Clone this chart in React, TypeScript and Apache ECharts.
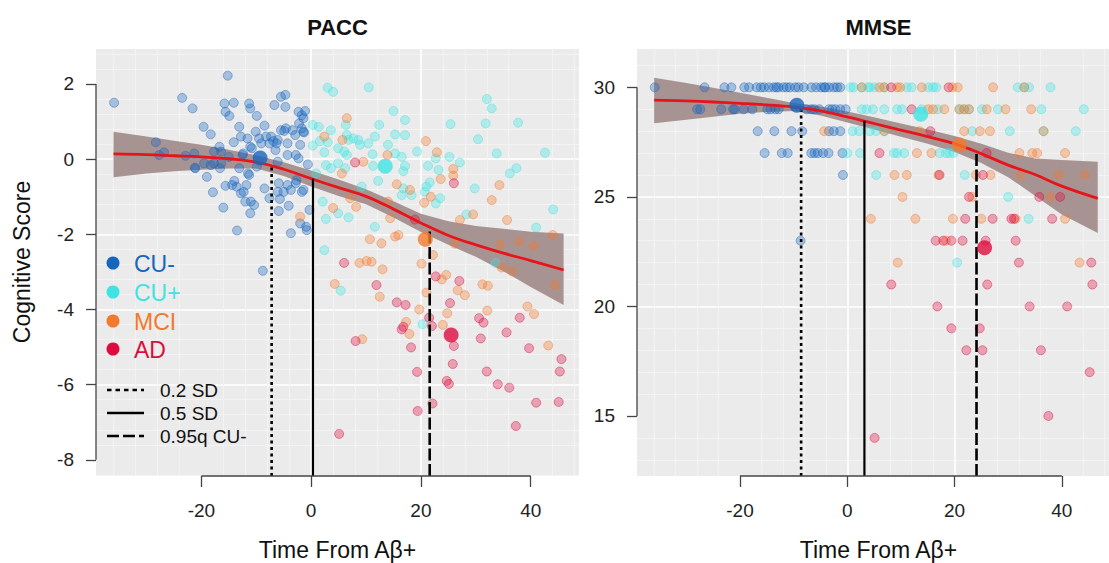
import React, { useEffect, useRef } from "react";
import * as echarts from "echarts";

// ---------- DATA ----------
const xTicks = [-20, 0, 20, 40];
const paccYTicks = [-8, -6, -4, -2, 0, 2];
const mmseYTicks = [15, 20, 25, 30];

const groupNames = ["CU-", "CU+", "MCI", "AD"];

// PACC scatter [time, score]
const paccCUneg = [
  [-35.9, 1.5], [-23.5, 1.63], [-21.6, 1.35], [-15.2, 2.22], [-28.3, 0.45], [-27.7, 0.11], [-26.8, 0.18], [-22.9, 0.09],
  [-21.3, 0.15], [-21.1, -0.24], [-19.6, 0.86], [-18.3, 0.66], [-19.5, -0.11], [-19.0, -0.47], [-17.9, -0.88], [-17.7, -0.11],
  [-16.7, 0.33], [-16.4, 0.2], [-16.6, -0.24], [-16.0, -1.29], [-15.6, -0.71], [-15.8, 1.48], [-15.6, 1.26], [-14.9, 1.15],
  [-14.1, 1.5], [-14.1, 0.45], [-14.0, -0.58], [-13.6, -0.73], [-13.5, -1.9], [-13.1, 0.86], [-12.8, 0.6], [-13.1, -0.24],
  [-12.8, -0.91], [-12.3, -0.87], [-12.5, 0.11], [-12.0, -1.13], [-11.6, 0.55], [-11.3, 1.48], [-11.1, 1.35], [-11.3, -0.42],
  [-11.1, -1.44], [-11.0, -1.13], [-10.4, -1.22], [-10.8, 0.29], [-10.1, 0.73], [-9.9, 1.15], [-9.5, 0.55], [-9.1, 0.42],
  [-8.5, 0.89], [-8.5, -0.78], [-8.2, 0.6], [-7.6, -1.04], [-7.6, 0.42], [-6.9, 0.48], [-6.7, 1.44], [-6.5, 0.24],
  [-6.1, 0.51], [-6.1, -0.07], [-6.1, -0.87], [-5.9, -1.38], [-5.7, -1.06], [-5.5, 1.66], [-4.7, 1.71], [-4.7, 1.39],
  [-4.9, 0.75], [-4.3, 0.42], [-4.3, 0.11], [-4.3, -0.69], [-4.1, -1.24], [-3.7, -1.97], [-3.4, 0.77], [-2.9, 0.64],
  [-2.8, 0.11], [-2.8, -0.64], [-2.3, 1.26], [-2.2, 0.95], [-2.0, 0.38], [-1.7, 0.82], [-1.4, 1.09], [-1.1, 1.28],
  [-1.3, 0.71], [-2.3, 0.02], [-1.4, -0.82], [-0.9, -1.8], [-0.6, -0.14], [-0.3, -1.35], [-2.0, -1.71], [-0.8, -1.89],
  [-5.5, 0.77], [-8.8, -2.97], [-1.7, 1.17], [-1.4, 0.73], [-4.6, 0.82], [-6.3, 0.42], [-7.3, 0.6], [-11.1, 0.33],
  [-12.4, 0.15], [-15.0, 0.06], [-16.4, -0.11], [-18.3, -0.16], [-21.2, -0.23], [-17.7, 0.2], [-11.5, -0.38], [-9.9, -0.2],
  [-5.9, -0.64], [-2.7, -0.56], [-1.7, -0.87], [-11.8, -0.69], [-14.4, -0.69], [-3.7, -0.82], [-5.0, -0.87],
];
const paccCUpos = [
  [3.0, 1.9], [4.0, 1.79], [0.3, 0.91], [1.4, 0.86], [3.6, 0.77], [0.3, 0.36], [1.6, 0.48], [3.0, 0.45], [2.4, 0.18],
  [2.7, -0.16], [3.6, -0.24], [0.9, -0.38], [2.1, -1.13], [2.7, -1.59], [10.5, 1.91], [15.0, 1.28], [17.1, 1.04],
  [12.4, 0.91], [6.3, 0.91], [11.6, 0.6], [15.3, 0.66], [17.1, 0.64], [6.5, 0.64], [7.7, 0.55], [8.6, 0.51], [6.8, 0.51],
  [8.9, 0.38], [10.4, 0.42], [4.9, 0.29], [6.0, 0.2], [14.0, 0.38], [19.3, 0.2], [15.3, 0.15], [16.5, 0.06], [11.2, 0.13],
  [6.5, 0.11], [22.7, 0.02], [25.2, 0.06], [27.1, -0.09], [4.9, -0.11], [6.2, -0.24], [11.3, -0.18], [17.1, -0.18],
  [16.8, -0.32], [21.3, -0.18], [23.2, -0.29], [12.2, -0.58], [21.6, -0.62], [21.0, -0.73], [20.7, -0.87], [16.8, -0.78],
  [16.5, -0.96], [18.3, -0.96], [22.7, -1.18], [23.5, -1.04], [29.8, -0.78], [4.9, -1.44], [6.8, -1.55], [11.6, -1.8],
  [28.3, -1.47], [32.0, 1.6], [32.9, 1.35], [31.8, 0.95], [30.4, 0.53], [25.4, 0.93], [33.8, 0.15], [37.7, 0.97],
  [36.2, -0.38], [37.4, -0.24], [42.6, 0.17], [44.1, -1.34], [41.0, -1.82], [9.2, -0.73], [2.4, -2.42], [5.4, -3.5],
  [20.3, -4.39], [33.6, -2.76],
];
const paccMCI = [
  [2.4, 0.6], [4.0, -1.3], [-2.0, -1.53], [6.5, 1.09], [5.7, 0.51], [13.9, 0.11], [20.9, 0.48], [22.9, 0.18],
  [25.9, -0.26], [25.9, -0.44], [23.6, -0.53], [15.6, -0.67], [18.0, -0.82], [20.6, -1.16], [21.8, -1.0], [34.3, -0.69],
  [32.9, -1.09], [29.5, -1.47], [27.1, -1.62], [35.7, -1.62], [8.2, -1.27], [7.1, -1.04], [5.6, -0.38], [9.5, -0.07],
  [14.0, -1.13], [14.4, -1.57], [15.3, -2.06], [15.9, -2.02], [10.7, -2.13], [12.8, -2.24], [44.0, -2.02], [8.8, -2.76],
  [10.1, -2.71], [11.0, -2.73], [13.0, -2.93], [4.3, -3.32], [12.5, -3.66], [20.1, -2.78], [22.2, -2.55], [23.8, -3.2],
  [24.6, -3.08], [21.0, -3.55], [19.7, -4.0], [26.7, -3.49], [28.0, -3.62], [26.2, -2.25], [31.2, -3.33], [32.2, -3.37],
  [32.1, -4.03], [24.8, -4.1], [24.0, -4.41], [17.3, -4.33], [17.9, -4.65], [9.3, -4.79], [34.7, -2.88], [36.6, -2.98],
  [34.4, -2.28], [37.9, -2.19], [40.5, -2.31], [39.4, -3.92], [40.6, -4.12], [43.2, -4.96], [44.4, -3.35],
];
const paccAD = [
  [8.0, -0.09], [26.0, -0.64], [18.9, -1.61], [6.0, -2.76], [11.9, -3.35], [15.6, -3.81], [17.2, -3.88], [22.7, -3.12],
  [27.0, -3.24], [25.3, -3.83], [21.5, -4.22], [22.0, -4.44], [16.5, -4.53], [16.8, -4.46], [8.1, -4.84], [18.2, -5.01],
  [26.0, -4.97], [25.8, -5.45], [19.3, -5.66], [24.7, -5.9], [25.1, -5.98], [30.6, -4.23], [31.4, -4.35], [30.9, -4.77],
  [35.6, -4.61], [38.0, -4.22], [39.7, -5.03], [45.6, -5.32], [45.3, -5.65], [32.0, -5.65], [34.0, -5.99], [36.1, -6.08],
  [22.1, -6.5], [19.4, -6.7], [41.0, -6.48], [45.1, -6.46], [37.3, -7.1], [5.1, -7.31],
];

// MMSE scatter [time, score]
const mmseCUneg = [
  [-35.9, 30], [-26.6, 30], [-22.9, 30], [-21.6, 30], [-19.2, 30], [-18.3, 30], [-16.1, 30], [-15.5, 30], [-14.6, 30],
  [-13.7, 30], [-12.8, 30], [-11.9, 30], [-11.3, 30], [-10.7, 30], [-9.7, 30], [-9.1, 30], [-8.1, 30], [-6.7, 30],
  [-5.8, 30], [-4.9, 30], [-4.3, 30], [-3.4, 30], [-2.5, 30], [-1.9, 30], [-1.3, 30], [-16.9, 30], [-13.2, 30], [-4.1, 30],
  [-28.0, 29], [-27.4, 29], [-23.5, 29], [-21.3, 29], [-21.0, 29], [-19.3, 29], [-17.7, 29], [-14.9, 29], [-14.3, 29],
  [-13.4, 29], [-12.8, 29], [-7.6, 29], [-6.7, 29], [-6.1, 29], [-5.2, 29], [-3.4, 29], [-2.8, 29], [-2.2, 29], [-1.3, 29],
  [-0.3, 29],
  [-16.7, 28], [-13.6, 28], [-10.4, 28], [-8.4, 28], [-3.4, 28], [-2.5, 28], [-1.3, 28],
  [-15.4, 27], [-12.2, 27], [-11.1, 27], [-6.7, 27], [-6.1, 27], [-5.5, 27], [-4.5, 27], [-3.5, 27], [-0.9, 27],
  [-0.8, 26], [-8.7, 23],
];
const mmseCUpos = [
  [0.6, 30], [1.2, 30], [2.7, 30], [3.9, 30], [4.2, 30], [5.1, 30], [6.9, 30], [11.1, 30], [12.0, 30], [15.1, 30],
  [16.0, 30], [16.6, 30], [31.8, 30], [33.0, 30], [33.9, 30], [37.9, 30],
  [2.7, 29], [3.6, 29], [4.8, 29], [6.9, 29], [9.3, 29], [10.2, 29], [13.9, 29], [16.9, 29], [20.9, 29], [21.8, 29],
  [22.7, 29], [25.1, 29], [28.1, 29], [36.2, 29], [44.1, 29],
  [1.0, 28], [2.2, 28], [4.2, 28], [5.4, 28], [6.9, 28], [23.3, 28], [30.3, 28], [36.6, 28], [42.6, 28],
  [0.0, 27], [2.4, 27], [8.7, 27], [9.3, 27], [10.6, 27], [17.2, 27], [18.4, 27], [19.0, 27], [19.8, 27],
  [5.4, 26], [21.9, 26], [30.0, 25], [33.8, 24], [20.5, 22],
];
const mmseMCI = [
  [2.7, 30], [6.0, 30], [6.9, 30], [9.3, 30], [9.9, 30], [13.9, 30], [19.6, 30], [20.6, 30], [27.2, 30], [33.0, 30],
  [15.1, 29], [16.0, 29], [18.1, 29], [20.9, 29], [21.8, 29], [22.7, 29], [26.0, 29], [29.5, 29], [34.3, 29],
  [-4.3, 28], [6.9, 28], [13.5, 28], [21.8, 28], [24.7, 28], [26.6, 28], [36.6, 28],
  [13.0, 27], [15.7, 27], [32.1, 27], [34.5, 27], [35.4, 27], [40.6, 27],
  [8.8, 26], [11.1, 26], [17.0, 26], [24.0, 26], [26.7, 26], [32.3, 26], [39.4, 26], [44.3, 26],
  [10.3, 25], [23.3, 25], [37.9, 25],
  [4.4, 24], [12.7, 24], [19.7, 24], [25.0, 24], [31.4, 24], [40.6, 24],
  [18.4, 23], [9.4, 22], [43.3, 22],
];
const mmseAD = [
  [8.2, 30], [18.9, 30], [12.0, 29], [15.5, 28], [6.0, 27], [26.0, 27], [17.2, 26], [25.3, 26],
  [22.7, 25], [35.8, 25], [39.7, 25], [22.0, 24], [27.1, 24], [30.6, 24], [31.1, 24], [38.2, 24],
  [16.5, 23], [17.9, 23], [19.4, 23], [21.5, 23], [25.8, 23], [31.4, 23], [32.0, 22], [45.5, 22],
  [8.2, 21], [26.1, 21], [45.7, 21], [16.8, 20], [34.0, 20], [41.0, 20], [19.4, 19], [24.7, 19],
  [22.2, 18], [25.2, 18], [36.1, 18], [45.2, 17], [37.5, 15], [5.1, 14],
];

// group means [time, score] in order CU-, CU+, MCI, AD
const paccMeans = [[-9.3, 0.03], [13.5, -0.19], [20.8, -2.13], [25.5, -4.68]];
const mmseMeans = [[-9.4, 29.18], [13.7, 28.77], [20.9, 27.37], [25.6, 22.68]];

// smooth fit with confidence band
const paccFitX = [-36, -30, -25, -20, -15, -10, -5, 0, 5, 10, 15, 20, 25, 30, 35, 40, 46];
const paccFit = [0.14, 0.12, 0.09, 0.06, 0.01, -0.08, -0.27, -0.52, -0.76, -0.99, -1.33, -1.7, -2.03, -2.28, -2.5, -2.7, -2.95];
const paccUpper = [0.73, 0.6, 0.49, 0.38, 0.25, 0.1, -0.08, -0.3, -0.54, -0.8, -1.12, -1.45, -1.65, -1.78, -1.85, -1.93, -1.98];
const paccLower = [-0.48, -0.38, -0.32, -0.28, -0.25, -0.25, -0.45, -0.73, -0.98, -1.2, -1.55, -1.94, -2.28, -2.6, -2.98, -3.4, -3.88];

const mmseFitX = [-36, -30, -25, -20, -15, -10, -5, 0, 5, 10, 15, 20, 25, 30, 35, 40, 46.7];
const mmseFit = [29.42, 29.38, 29.33, 29.27, 29.2, 29.1, 28.93, 28.65, 28.35, 28.05, 27.75, 27.43, 26.97, 26.45, 26.02, 25.49, 24.93];
const mmseUpper = [30.44, 30.2, 29.98, 29.75, 29.52, 29.28, 29.12, 28.9, 28.63, 28.35, 28.07, 27.78, 27.42, 27.02, 26.75, 26.68, 26.6];
const mmseLower = [28.36, 28.52, 28.66, 28.8, 28.88, 28.92, 28.72, 28.4, 28.07, 27.75, 27.42, 27.05, 26.55, 25.9, 25.05, 24.2, 23.35];

// threshold vertical lines: 0.2 SD, 0.5 SD, 0.95q CU-
const thresholdNames = ["0.2 SD", "0.5 SD", "0.95q CU-"];
const paccThrX = [-7.2, 0.33, 21.6];
const paccThrTop = [-0.17, -0.52, -1.84];
const mmseThrX = [-8.6, 3.2, 24.1];
const mmseThrTop = [29.05, 28.47, 27.05];

// ---------- STYLE ----------
const FONT = '"Liberation Sans", Arial, Helvetica, sans-serif';
const groupColors = ["#1766BE", "#3FE3E3", "#F27A2C", "#DE0C3E"];
const lineDashes: any[] = [[3, 3.5], "solid", [12, 3.5]];
const lineWidths = [2.6, 2.2, 2.6];

function rgba(hex: string, a: number) {
  const r = parseInt(hex.slice(1, 3), 16), g = parseInt(hex.slice(3, 5), 16), b = parseInt(hex.slice(5, 7), 16);
  return `rgba(${r},${g},${b},${a})`;
}

const X_MIN = -39.2, X_MAX = 48.8;
const PACC_MIN = -8.43, PACC_MAX = 2.93;
const MMSE_MIN = 12.26, MMSE_MAX = 31.75;

function buildPanel(idx: number, groups: number[][][], means: number[][], fitX: number[], fit: number[], up: number[], lo: number[],
  thrX: number[], thrTop: number[], yMin: number, yTicks: number[]) {
  const series: any[] = [];
  // ribbon
  series.push({
    type: "custom", xAxisIndex: idx, yAxisIndex: idx, z: 2, silent: true,
    data: [[fitX[0], fit[0]]],
    renderItem: (_p: any, api: any) => {
      const pts: number[][] = [];
      for (let i = 0; i < fitX.length; i++) pts.push(api.coord([fitX[i], up[i]]));
      for (let i = fitX.length - 1; i >= 0; i--) pts.push(api.coord([fitX[i], lo[i]]));
      return { type: "polygon", shape: { points: pts }, style: { fill: "#A89393" } };
    },
  });
  groups.forEach((g, gi) => {
    series.push({
      type: "scatter", xAxisIndex: idx, yAxisIndex: idx, z: 3, silent: true, symbolSize: 9,
      data: g,
      itemStyle: { color: rgba(groupColors[gi], 0.42), borderColor: rgba(groupColors[gi], 0.55), borderWidth: 1 },
    });
  });
  // fit line
  series.push({
    type: "line", xAxisIndex: idx, yAxisIndex: idx, z: 4, silent: true, smooth: 0.4, showSymbol: false,
    data: fitX.map((x, i) => [x, fit[i]]),
    lineStyle: { color: "#E8141B", width: 2.8 },
  });
  // threshold lines
  thrX.forEach((x, i) => {
    series.push({
      type: "line", xAxisIndex: idx, yAxisIndex: idx, z: 4, silent: true, showSymbol: false, clip: false,
      data: [[x, yMin], [x, thrTop[i]]],
      lineStyle: { color: "#000", width: lineWidths[i], type: lineDashes[i] },
    });
  });
  // means
  means.forEach((m, gi) => {
    series.push({
      type: "scatter", xAxisIndex: idx, yAxisIndex: idx, z: 6, silent: true, symbolSize: 15,
      data: [m], itemStyle: { color: groupColors[gi] },
    });
  });
  // R-style axis lines spanning tick range
  series.push({
    type: "line", xAxisIndex: idx, yAxisIndex: idx, z: 6, silent: true, showSymbol: false, clip: false,
    data: [[xTicks[0], yMin], [xTicks[xTicks.length - 1], yMin]],
    lineStyle: { color: "#444", width: 1.3 },
  });
  series.push({
    type: "line", xAxisIndex: idx, yAxisIndex: idx, z: 6, silent: true, showSymbol: false, clip: false,
    data: [[X_MIN, yTicks[0]], [X_MIN, yTicks[yTicks.length - 1]]],
    lineStyle: { color: "#444", width: 1.3 },
  });
  return series;
}

export default function App() {
  const ref = useRef<HTMLDivElement>(null);
  useEffect(() => {
    if (!ref.current) return;
    const chart = echarts.init(ref.current, undefined, { renderer: "svg" });
    const tickStyle = { color: "#444", width: 1.3 };
    const mkX = (gi: number) => ({
      type: "value", gridIndex: gi, min: X_MIN, max: X_MAX,
      axisLine: { show: false, onZero: false },
      axisTick: { show: true, customValues: xTicks, length: 11, lineStyle: tickStyle },
      axisLabel: { customValues: xTicks, margin: 25, fontSize: 19, color: "#222", fontFamily: FONT },
      splitLine: { show: true, showMinLine: false, showMaxLine: false, lineStyle: { color: "#FFFFFF", width: 1.6 } },
      minorTick: { show: false, splitNumber: 5 },
      minorSplitLine: { show: true, lineStyle: { color: "#F3F3F3", width: 1 } },
    });
    const mkY = (gi: number, min: number, max: number, ticks: number[], split: number) => ({
      type: "value", gridIndex: gi, min, max, splitNumber: split,
      axisLine: { show: false, onZero: false },
      axisTick: { show: true, customValues: ticks, length: 10, lineStyle: tickStyle },
      axisLabel: { customValues: ticks, margin: 22, fontSize: 19, color: "#222", fontFamily: FONT },
      splitLine: { show: true, showMinLine: false, showMaxLine: false, lineStyle: { color: "#FFFFFF", width: 1.6 } },
      minorTick: { show: false, splitNumber: 5 },
      minorSplitLine: { show: true, lineStyle: { color: "#F3F3F3", width: 1 } },
    });

    const series = [
      ...buildPanel(0, [paccCUneg, paccCUpos, paccMCI, paccAD], paccMeans, paccFitX, paccFit, paccUpper, paccLower,
        paccThrX, paccThrTop, PACC_MIN, paccYTicks),
      ...buildPanel(1, [mmseCUneg, mmseCUpos, mmseMCI, mmseAD], mmseMeans, mmseFitX, mmseFit, mmseUpper, mmseLower,
        mmseThrX, mmseThrTop, MMSE_MIN, mmseYTicks),
    ];

    const txt = (text: string, x: number, y: number, size: number, color = "#111", weight = "normal", rotation = 0, align = "center") => ({
      type: "text", x, y, rotation, z: 100, silent: true,
      style: { text, fontSize: size, fontFamily: FONT, fontWeight: weight, fill: color, align, verticalAlign: "middle" },
    });

    const legendY = [263, 292, 321, 349];
    const lineLegY = [390, 413, 436];
    const graphic: any[] = [
      txt("PACC", 337.5, 27, 22, "#111", "bold"),
      txt("MMSE", 878.5, 27, 22, "#111", "bold"),
      txt("Time From A\u03B2+", 337.5, 550, 23, "#111"),
      txt("Time From A\u03B2+", 878.5, 550, 23, "#111"),
      txt("Cognitive Score", 22, 262, 23, "#111", "normal", Math.PI / 2),
    ];
    groupNames.forEach((n, i) => {
      graphic.push({ type: "circle", z: 100, silent: true, shape: { cx: 113, cy: legendY[i], r: 6.5 }, style: { fill: groupColors[i] } });
      graphic.push(txt(n, 134, legendY[i] + 1, 23, groupColors[i], "normal", 0, "left"));
    });
    thresholdNames.forEach((n, i) => {
      graphic.push({
        type: "line", z: 100, silent: true, shape: { x1: 107, y1: lineLegY[i], x2: 144, y2: lineLegY[i] },
        style: { stroke: "#000", lineWidth: 2.4, lineDash: i === 0 ? [4.5, 4] : i === 2 ? [12, 4] : null },
      });
      graphic.push(txt(n, 160, lineLegY[i], 19, "#111", "normal", 0, "left"));
    });

    chart.setOption({
      animation: false,
      backgroundColor: "#FFFFFF",
      textStyle: { fontFamily: FONT },
      grid: [
        { left: 96, top: 49, width: 483, height: 427, show: true, backgroundColor: "#EBEBEB", borderWidth: 0 },
        { left: 637, top: 49, width: 483, height: 427, show: true, backgroundColor: "#EBEBEB", borderWidth: 0 },
      ],
      xAxis: [mkX(0), mkX(1)],
      yAxis: [mkY(0, PACC_MIN, PACC_MAX, paccYTicks, 5), mkY(1, MMSE_MIN, MMSE_MAX, mmseYTicks, 4)],
      series,
      graphic,
    });
    return () => chart.dispose();
  }, []);
  return <div ref={ref} style={{ position: "absolute", left: 0, top: 0, width: 1109, height: 563 }} />;
}
